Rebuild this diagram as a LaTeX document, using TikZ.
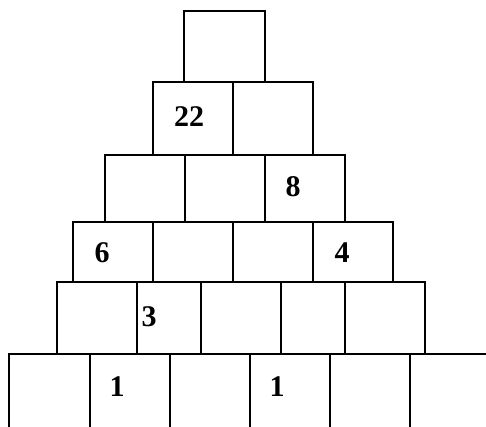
\documentclass[tikz,border=0pt]{standalone}
\usepackage{fontspec}
\setmainfont{Liberation Serif}
\usetikzlibrary{positioning}
\tikzset{
    cell/.style={draw=black,line width=2.4pt,inner sep=0pt,outer sep=0pt,anchor=north west},
    num/.style={font=\fontsize{30}{32}\selectfont\bfseries,inner sep=0pt},
}

\begin{document}
\begin{tikzpicture}[x=1pt,y=-1pt]
    \useasboundingbox (0,0) rectangle (486,427);
    \clip (0,0) rectangle (486,427);

    % row 1
    \node[cell,minimum width=81pt,minimum height=71pt] (a1) at (184,11) {};
    % row 2
    \node[cell,minimum width=80pt,minimum height=73pt] (b1) at (153,82) {};
    \node[cell,minimum width=80pt,minimum height=73pt,right=0pt of b1] (b2) {};
    % row 3
    \node[cell,minimum width=80pt,minimum height=67pt] (c1) at (105,155) {};
    \node[cell,minimum width=80pt,minimum height=67pt,right=0pt of c1] (c2) {};
    \node[cell,minimum width=80pt,minimum height=67pt,right=0pt of c2] (c3) {};
    % row 4
    \node[cell,minimum width=80pt,minimum height=60pt] (d1) at (73,222) {};
    \node[cell,minimum width=80pt,minimum height=60pt,right=0pt of d1] (d2) {};
    \node[cell,minimum width=80pt,minimum height=60pt,right=0pt of d2] (d3) {};
    \node[cell,minimum width=80pt,minimum height=60pt,right=0pt of d3] (d4) {};
    % row 5
    \node[cell,minimum width=80pt,minimum height=72pt] (e1) at (57,282) {};
    \node[cell,minimum width=64pt,minimum height=72pt,right=0pt of e1] (e2) {};
    \node[cell,minimum width=80pt,minimum height=72pt,right=0pt of e2] (e3) {};
    \node[cell,minimum width=64pt,minimum height=72pt,right=0pt of e3] (e4) {};
    \node[cell,minimum width=80pt,minimum height=72pt,right=0pt of e4] (e5) {};
    % row 6 (runs off the page)
    \node[cell,minimum width=81pt,minimum height=86pt] (f1) at (9,354) {};
    \node[cell,minimum width=80pt,minimum height=86pt,right=0pt of f1] (f2) {};
    \node[cell,minimum width=80pt,minimum height=86pt,right=0pt of f2] (f3) {};
    \node[cell,minimum width=80pt,minimum height=86pt,right=0pt of f3] (f4) {};
    \node[cell,minimum width=80pt,minimum height=86pt,right=0pt of f4] (f5) {};
    \node[cell,minimum width=90pt,minimum height=86pt,right=0pt of f5] (f6) {};

    % given numbers
    \node[num] (n22) at (189,117) {22};
    \node[num] (n8) at (293,187) {8};
    \node[num] (n6) at (102,253) {6};
    \node[num] (n4) at (342,253) {4};
    \node[num] (n3) at (149,317) {3};
    \node[num] (n1a) at (117,387) {1};
    \node[num] (n1b) at (277,387) {1};
\end{tikzpicture}
\end{document}
